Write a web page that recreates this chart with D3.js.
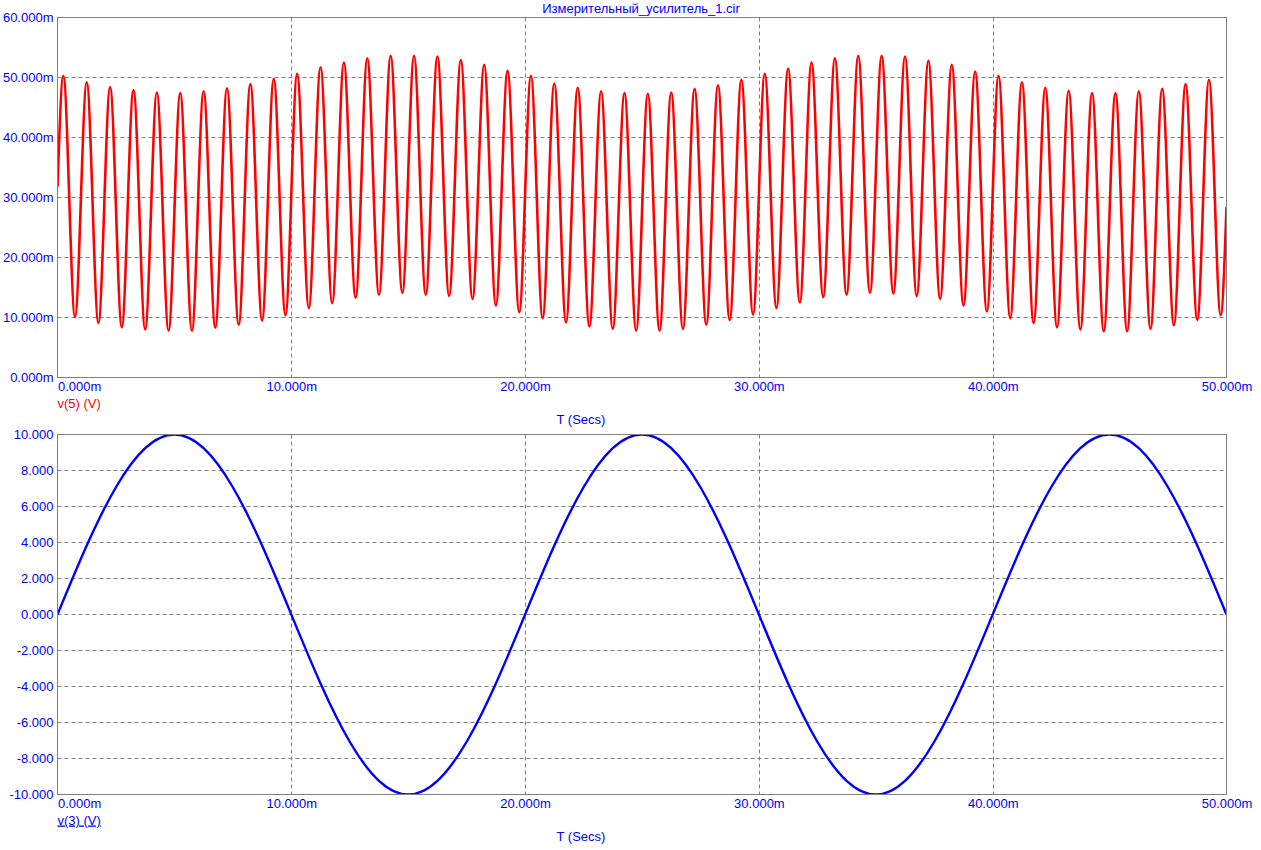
<!DOCTYPE html>
<html><head><meta charset="utf-8">
<script src="https://cdn.jsdelivr.net/npm/d3@7"></script>
<style>
body{margin:0;background:#fff}
text{font-family:Arial,"Liberation Sans",sans-serif;font-size:13px}
</style>
</head><body>
<svg id="c" width="1261" height="850"></svg>
<script>
// ---------- data ----------
const title = "Измерительный_усилитель_1.cir";
const xTicks = [0, 10, 20, 30, 40, 50];               // ms
const topYTicks = [0, 10, 20, 30, 40, 50, 60];         // mV
const botYTicks = [-10, -8, -6, -4, -2, 0, 2, 4, 6, 8, 10]; // V

// v(5): start / end values and the peak & trough of each 1 ms cycle (mV)
const v5Start = {t: 0, v: 31.8};
const v5End = {t: 50, v: 28.4};
const v5PeakTimes = [0.25,1.25,2.25,3.25,4.25,5.25,6.25,7.25,8.25,9.25,10.25,11.25,12.25,13.25,14.25,15.25,16.25,17.25,18.25,19.25,20.25,21.25,22.25,23.25,24.25,25.25,26.25,27.25,28.25,29.25,30.25,31.25,32.25,33.25,34.25,35.25,36.25,37.25,38.25,39.25,40.25,41.25,42.25,43.25,44.25,45.25,46.25,47.25,48.25,49.25];
const v5Peaks = [50.3,49.2,48.4,47.9,47.5,47.4,47.7,48.2,48.9,49.8, 50.6,51.7,52.5,53.2,53.6,53.6,53.5,52.9,52.1,51.1, 50.3,49.0,48.3,47.7,47.4,47.3,47.5,48.1,48.7,49.6, 50.6,51.5,52.5,53.2,53.6,53.6,53.5,52.8,52.1,51.0, 50.3,49.2,48.3,47.8,47.4,47.4,47.7,48.1,48.9,49.6];
const v5TroughTimes = [0.75,1.75,2.75,3.75,4.75,5.75,6.75,7.75,8.75,9.75,10.75,11.75,12.75,13.75,14.75,15.75,16.75,17.75,18.75,19.75,20.75,21.75,22.75,23.75,24.75,25.75,26.75,27.75,28.75,29.75,30.75,31.75,32.75,33.75,34.75,35.75,36.75,37.75,38.75,39.75,40.75,41.75,42.75,43.75,44.75,45.75,46.75,47.75,48.75,49.75];
const v5Troughs = [10.1,9.1,8.4,8.0,7.8,7.8,8.3,8.8,9.5,10.4, 11.6,12.4,13.3,13.8,14.1,13.8,13.6,13.1,12.0,10.9, 9.9,9.2,8.5,8.1,7.8,7.8,8.1,8.8,9.6,10.5, 11.6,12.5,13.4,13.8,14.1,14.0,13.6,13.1,12.0,11.0, 9.9,9.1,8.4,8.0,7.7,7.7,8.1,8.7,9.6,10.4];

// v(3): input sine sampled every 1.25 ms (V)
const v3Times = [0,1.25,2.5,3.75,5,6.25,7.5,8.75,10,11.25,12.5,13.75,15,16.25,17.5,18.75,20,21.25,22.5,23.75,25,26.25,27.5,28.75,30,31.25,32.5,33.75,35,36.25,37.5,38.75,40,41.25,42.5,43.75,45,46.25,47.5,48.75,50];
const v3Values = [0,3.83,7.07,9.24,10,9.24,7.07,3.83,0,-3.83,-7.07,-9.24,-10,-9.24,-7.07,-3.83,0,3.83,7.07,9.24,10,9.24,7.07,3.83,0,-3.83,-7.07,-9.24,-10,-9.24,-7.07,-3.83,0,3.83,7.07,9.24,10,9.24,7.07,3.83,0];

// ---------- drawing ----------
const svg = d3.select("#c");
const L = 57.5, R = 1226.5;
const GRID = "#808080", BLUE = "#0000ff", RED = "#ff0000";

const x = d3.scaleLinear().domain([0, 50]).range([L, R]);
const yTop = d3.scaleLinear().domain([0, 60]).range([377.5, 17.5]);
const yBot = d3.scaleLinear().domain([-10, 10]).range([794.5, 434.5]);

// build v5 series
const v5 = [v5Start];
v5PeakTimes.forEach((t, i) => {
  v5.push({t: t, v: v5Peaks[i]});
  v5.push({t: v5TroughTimes[i], v: v5Troughs[i]});
});
v5.push(v5End);
const v3 = v3Times.map((t, i) => ({t: t, v: v3Values[i]}));

svg.append("text").attr("x", 641).attr("y", 13).attr("text-anchor", "middle")
  .attr("fill", BLUE).text(title);

function panel(y, yTicks, fmt, data, color, curve, width, id, label, underline) {
  const top = y.range()[1], bot = y.range()[0];
  const g = svg.append("g");
  g.append("clipPath").attr("id", id).append("rect")
    .attr("x", L).attr("y", top).attr("width", R - L).attr("height", bot - top);
  // grid
  g.append("g").selectAll("line").data(xTicks.slice(1, -1)).join("line")
    .attr("x1", d => Math.round(x(d)) + 0.5).attr("x2", d => Math.round(x(d)) + 0.5)
    .attr("y1", top).attr("y2", bot)
    .attr("stroke", GRID).attr("stroke-dasharray", "4,3");
  g.append("g").selectAll("line").data(yTicks.slice(1, -1)).join("line")
    .attr("y1", d => Math.round(y(d) - 0.5) + 0.5).attr("y2", d => Math.round(y(d) - 0.5) + 0.5)
    .attr("x1", L).attr("x2", R)
    .attr("stroke", GRID).attr("stroke-dasharray", "4,3");
  // curve
  const line = d3.line().x(d => x(d.t)).y(d => y(d.v)).curve(curve);
  g.append("path").datum(data).attr("d", line)
    .attr("fill", "none").attr("stroke", color).attr("stroke-width", width)
    .attr("clip-path", `url(#${id})`);
  // frame
  g.append("rect").attr("x", L).attr("y", top).attr("width", R - L).attr("height", bot - top)
    .attr("fill", "none").attr("stroke", GRID);
  // y axis labels
  const ya = g.append("g").attr("transform", `translate(${L},0)`)
    .call(d3.axisLeft(y).tickValues(yTicks).tickFormat(fmt).tickSize(0).tickPadding(4));
  ya.select(".domain").remove();
  ya.selectAll("text").attr("fill", BLUE).style("font-size", "13px")
    .style("font-family", "Arial, 'Liberation Sans', sans-serif");
  // x axis labels
  const xa = g.append("g").attr("transform", `translate(0,${bot})`)
    .call(d3.axisBottom(x).tickValues(xTicks).tickFormat(d => d.toFixed(3) + "m").tickSize(0).tickPadding(4));
  xa.select(".domain").remove();
  xa.selectAll("text").attr("fill", BLUE).style("font-size", "13px")
    .style("font-family", "Arial, 'Liberation Sans', sans-serif")
    .attr("text-anchor", d => d === 0 ? "start" : "middle");
  // series label
  g.append("text").attr("x", L).attr("y", bot + 30).attr("fill", color)
    .style("text-decoration", underline ? "underline" : "none").text(label);
  g.append("text").attr("x", 581).attr("y", bot + 46).attr("text-anchor", "middle")
    .attr("fill", BLUE).text("T (Secs)");
}

panel(yTop, topYTicks, d => d.toFixed(3) + "m", v5, RED, d3.curveMonotoneX, 2.6, "clipTop", "v(5) (V)", false);
panel(yBot, botYTicks, d => d.toFixed(3), v3, BLUE, d3.curveNatural, 2.4, "clipBot", "v(3) (V)", true);
</script>
</body></html>
